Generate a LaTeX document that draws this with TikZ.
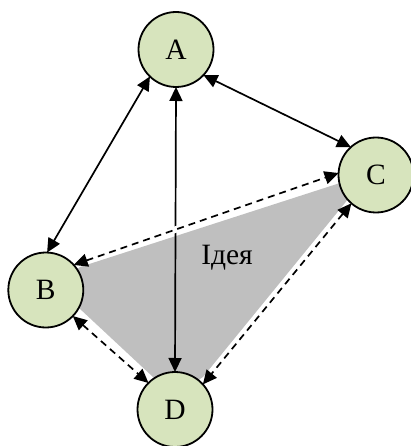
\documentclass[tikz,border=0pt]{standalone}
\usepackage{fontspec}
\setmainfont{Liberation Serif}
\usetikzlibrary{arrows.meta}
\definecolor{nodegreen}{HTML}{D7E4BD}
\definecolor{ideagray}{HTML}{BFBFBF}
\begin{document}
\begin{tikzpicture}[x=1pt,y=-1pt,
  vert/.style={circle,draw=black,line width=1.8pt,fill=nodegreen,minimum size=75pt,inner sep=0pt,outer sep=0pt,font=\fontsize{29.5}{29.5}\selectfont},
  link/.style={line width=1.7pt,{Triangle[length=14pt,width=13pt]}-{Triangle[length=14pt,width=13pt]}},
  dlink/.style={link,dash pattern=on 7pt off 5pt,
    preaction={draw=white,line width=6.5pt,solid,-,shorten <=10pt,shorten >=10pt}}
]
\useasboundingbox (0,0) rectangle (411,446);
\fill[ideagray] (80,267) -- (340,183) -- (349,198) -- (203,377) -- (175,395) -- (153,377) -- (79,308) -- (50,290) -- cycle;
\node[vert] (A) at (176,49.5) {A};
\node[vert] (B) at (45.8,290) {B};
\node[vert] (C) at (376,175) {C};
\node[vert] (D) at (175,409.5) {D};
\node[font=\fontsize{29.5}{29.5}\selectfont] (idea) at (227,258) {Ідея};
\draw[link] (A.226) -- (B.88);
\draw[link] (A.317) -- (C.132);
\draw[link] (A.270) -- (D.90);
\draw[dlink] (B.42) -- (C.177);
\draw[dlink] (B.316) -- (D.135);
\draw[dlink] (C.229) -- (D.42);
\end{tikzpicture}
\end{document}
